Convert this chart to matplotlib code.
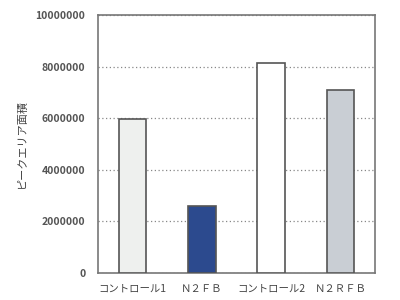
import matplotlib
matplotlib.use("Agg")
import matplotlib.pyplot as plt
from matplotlib.ticker import MultipleLocator, FuncFormatter

plt.rcParams['font.family'] = ['Noto Sans CJK JP', 'DejaVu Sans']

categories = ["コントロール1", "Ｎ２ＦＢ", "コントロール2", "Ｎ２ＲＦＢ"]
values = [5950000, 2600000, 8150000, 7100000]
colors = ["#eef0ee", "#2c4a8e", "#ffffff", "#c9ced4"]
ylabel = "ピークエリア面積"

fig = plt.figure(figsize=(4, 3), dpi=100)
ax = fig.add_axes([0.245, 0.09, 0.6925, 0.86])

x = range(len(categories))
ax.bar(x, values, width=0.4, color=colors, edgecolor="#555555", linewidth=1.2, zorder=3)

ax.set_xlim(-0.5, 3.5)
ax.set_ylim(0, 10000000)
ax.yaxis.set_major_locator(MultipleLocator(2000000))
ax.yaxis.set_major_formatter(FuncFormatter(lambda v, p: f"{int(v)}"))
ax.grid(axis="y", linestyle=(0, (1, 2)), color="#888888", linewidth=0.9, zorder=0)

ax.set_xticks(list(x))
ax.set_xticklabels(categories, fontsize=7.5, color="#444444")
for lab in ax.get_yticklabels():
    lab.set_fontsize(7.5)
    lab.set_fontweight("bold")
    lab.set_color("#555555")
ax.tick_params(length=0, pad=8)
ax.tick_params(axis="y", pad=9)

for s in ax.spines.values():
    s.set_color("#777777")
    s.set_linewidth(1.2)

fig.text(0.055, 0.52, ylabel, rotation=90, ha="center", va="center", fontsize=8, color="#444444")

fig.savefig("out.png", dpi=100, facecolor="white")
